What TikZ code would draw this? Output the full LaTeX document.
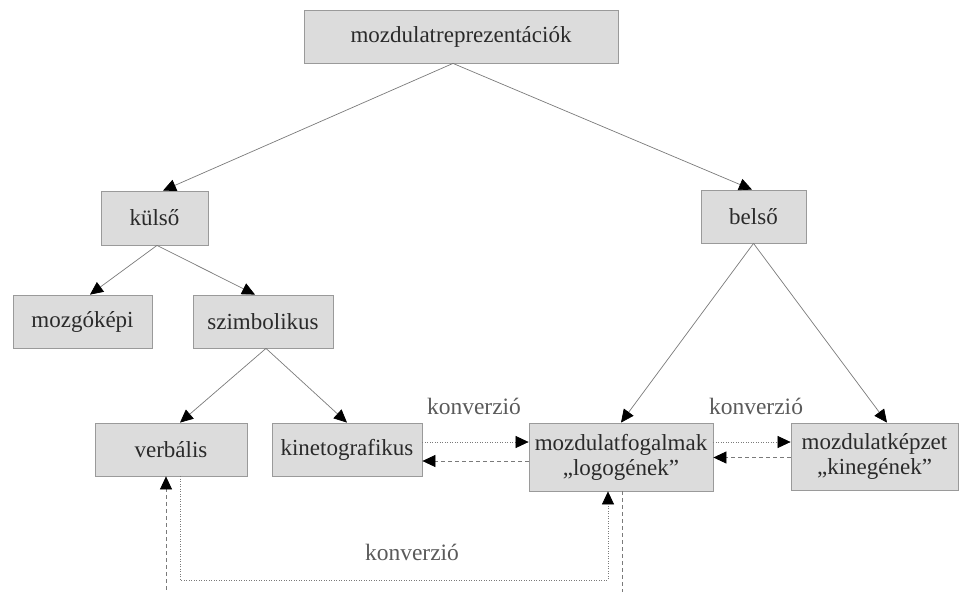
\documentclass[tikz,border=0pt]{standalone}
\usepackage{fontspec}
\setmainfont{Liberation Serif}
\usetikzlibrary{arrows.meta}
\definecolor{boxfill}{HTML}{DCDCDC}
\definecolor{boxline}{HTML}{9A9A9A}
\definecolor{txt}{HTML}{2A2A2A}
\definecolor{conn}{HTML}{7A7A7A}
\definecolor{lab}{HTML}{5A5A5A}
\begin{document}
\begin{tikzpicture}[x=1pt,y=-1pt,
  box/.style={draw=boxline, fill=boxfill, line width=0.8pt, text=txt,
    font=\fontsize{23}{25}\selectfont, inner sep=0pt, align=center},
  tip/.style={-{Triangle[length=13pt,width=12pt,color=black]}},
  tree/.style={tip, draw=conn, line width=0.7pt},
  dotline/.style={tip, draw=conn, line width=0.7pt, dash pattern=on 1pt off 1.5pt},
  dashline/.style={tip, draw=conn, line width=0.7pt, dash pattern=on 4pt off 3pt},
  conv/.style={text=lab, font=\fontsize{23.5}{25}\selectfont}
]
\useasboundingbox (0,0) rectangle (959,592);
\clip (0,0) rectangle (959,592);

\node[box, minimum width=314pt, minimum height=53pt] (top) at (461,36.5) {mozdulatreprezentációk};
\node[box, minimum width=107pt, minimum height=54pt] (kulso) at (154.5,218) {külső};
\node[box, minimum width=105pt, minimum height=53pt] (belso) at (753.5,216.5) {belső};
\node[box, minimum width=139pt, minimum height=53pt] (mozgo) at (82.5,321.5) {mozgóképi};
\node[box, minimum width=140pt, minimum height=53pt] (szimb) at (263,321.5) {szimbolikus};
\node[box, minimum width=152pt, minimum height=53pt] (verb) at (171,449.5) {verbális};
\node[box, minimum width=150pt, minimum height=53pt] (kineto) at (347,449.5) {kinetografikus};
\node[box, minimum width=184pt, minimum height=68pt] (fogalm) at (621,457) {mozdulatfogalmak\\„logogének”};
\node[box, minimum width=167pt, minimum height=67pt] (kepzet) at (874.5,456.5) {mozdulatképzet\\„kinegének”};

\node[conv] (c1) at (474,406) {konverzió};
\node[conv] (c2) at (756,406) {konverzió};
\node[conv] (c3) at (412,552) {konverzió};

% tree
\draw[tree] ([xshift=-8pt]top.south) -- ([xshift=8.5pt]kulso.north);
\draw[tree] ([xshift=-8pt]top.south) -- ([xshift=-1.5pt]belso.north);
\draw[tree] ([xshift=2.5pt]kulso.south) -- ([xshift=7.5pt]mozgo.north);
\draw[tree] ([xshift=2.5pt]kulso.south) -- ([xshift=-8pt]szimb.north);
\draw[tree] ([xshift=3pt]szimb.south) -- ([xshift=9pt]verb.north);
\draw[tree] ([xshift=3pt]szimb.south) -- (kineto.north);
\draw[tree] (belso.south) -- (fogalm.north);
\draw[tree] (belso.south) -- ([xshift=12.5pt]kepzet.north);

% conversions
\draw[dotline] ([yshift=7.5pt]kineto.east) -- ([yshift=7.5pt]kineto.east -| fogalm.west);
\draw[dashline] ([yshift=-4pt]fogalm.west) -- ([yshift=-4pt]fogalm.west -| kineto.east);
\draw[dotline] ([yshift=15pt]fogalm.east) -- ([yshift=15pt]fogalm.east -| kepzet.west);
\draw[dashline] ([yshift=-1pt]kepzet.west) -- ([yshift=-1pt]kepzet.west -| fogalm.east);

\coordinate (b1) at ([xshift=9pt]verb.south |- 0,580);
\coordinate (b2) at ([xshift=-13pt]fogalm.south |- 0,580);
\draw[dotline] ([xshift=9pt]verb.south) -- (b1) -- (b2) -- ([xshift=-13pt]fogalm.south);
\coordinate (d1) at ([xshift=1pt]fogalm.south |- 0,610);
\coordinate (d2) at ([xshift=-5pt]verb.south |- 0,610);
\draw[dashline] ([xshift=1pt]fogalm.south) -- (d1) -- (d2) -- ([xshift=-5pt]verb.south);
\end{tikzpicture}
\end{document}
